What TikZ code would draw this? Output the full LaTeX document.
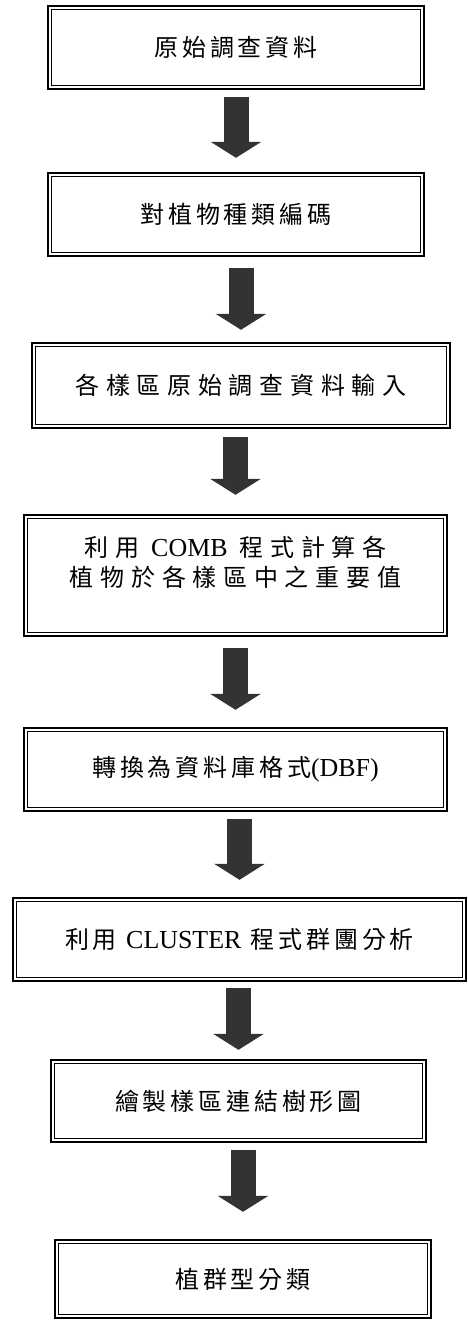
\documentclass[tikz,border=0pt]{standalone}
\usepackage{fontspec}
\setmainfont{Liberation Serif}[Scale=1.08]
\newfontfamily\cjk{Noto Sans CJK TC}[LetterSpace=16]
\usetikzlibrary{arrows.meta}
\tikzset{
  box/.style={draw, line width=2.4pt, inner sep=0pt, align=center,
    font=\fontsize{24pt}{30pt}\selectfont\cjk},
  wide/.style={font=\fontsize{24pt}{30pt}\selectfont\cjk\addfontfeature{LetterSpace=28}},
  flow/.style={line width=25pt, draw=black!80, -{Triangle[width=50pt,length=16pt]}},
}
\begin{document}
\begin{tikzpicture}[x=1pt, y=-1pt]
  \useasboundingbox (0,0) rectangle (467,1320);
  \draw
    (236,47.5) node[box, minimum width=376pt, minimum height=83pt] (b1) {原始調查資料}
    (236,214.5) node[box, minimum width=376pt, minimum height=83pt] (b2) {對植物種類編碼}
    (241,385.5) node[box, wide, minimum width=418pt, minimum height=85pt] (b3) {各樣區原始調查資料輸入}
    (235.5,575.5) node[box, wide, minimum width=423pt, minimum height=121pt, text depth=28pt] (b4) {利用 {\rmfamily COMB} 程式計算各\\植物於各樣區中之重要值}
    (235.5,769.5) node[box, minimum width=423pt, minimum height=83pt] (b5) {轉換為資料庫格式{\rmfamily (DBF)}}
    (239.5,939.5) node[box, minimum width=453pt, minimum height=83pt] (b6) {利用 {\rmfamily CLUSTER} 程式群團分析}
    (238.5,1101) node[box, minimum width=375pt, minimum height=82pt] (b7) {繪製樣區連結樹形圖}
    (243,1279) node[box, minimum width=376pt, minimum height=78pt] (b8) {植群型分類};
  % thin inner line of the double frames
  \foreach \i in {1,...,8}
    \draw[line width=0.8pt] ([shift={(5pt,-5pt)}]b\i.north west) rectangle ([shift={(-5pt,5pt)}]b\i.south east);
  \begin{scope}[flow]
    \draw[shorten <=7pt, shorten >=14pt] (b1.south -| b2.north) -- (b2.north);
    \draw[shorten <=11pt, shorten >=12pt] (b2.south -| b3.north) -- (b3.north);
    \draw[shorten <=8pt, shorten >=19pt] (b3.south -| b4.north) -- (b4.north);
    \draw[shorten <=11pt, shorten >=17pt] (b4.south -| b5.north) -- (b5.north);
    \draw[shorten <=7pt, shorten >=17pt] (b5.south -| b6.north) -- (b6.north);
    \draw[shorten <=6pt, shorten >=9pt] (b6.south -| b7.north) -- (b7.north);
    \draw[shorten <=7pt, shorten >=27pt] (b7.south -| b8.north) -- (b8.north);
  \end{scope}
\end{tikzpicture}
\end{document}
